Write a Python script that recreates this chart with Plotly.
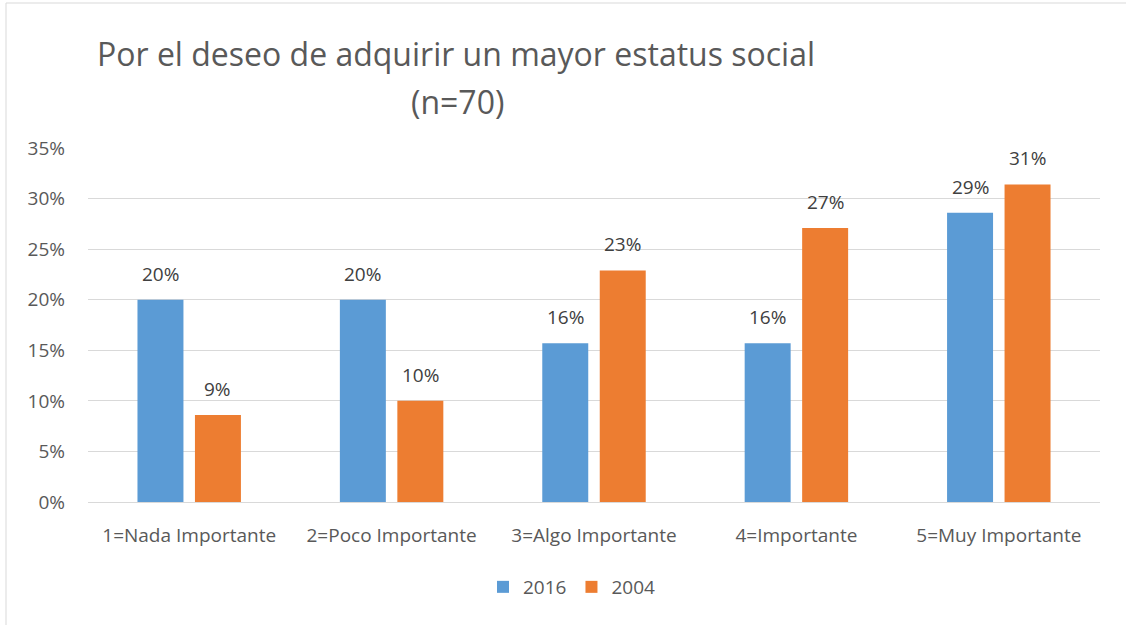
import plotly.graph_objects as go

categories = ["1=Nada Importante", "2=Poco Importante", "3=Algo Importante",
              "4=Importante", "5=Muy Importante"]
series_names = ["2016", "2004"]
values_2016 = [0.200, 0.200, 0.157, 0.157, 0.286]
values_2004 = [0.086, 0.100, 0.229, 0.271, 0.314]
y_ticks = [0, 0.05, 0.10, 0.15, 0.20, 0.25, 0.30, 0.35]
title_line1 = "Por el deseo de adquirir un mayor estatus social"
title_line2 = "(n=70)"

colors = ["#5B9BD5", "#ED7D31"]
FONT = "Open Sans"

fig = go.Figure()
for name, vals, col in zip(series_names, [values_2016, values_2004], colors):
    fig.add_trace(go.Bar(x=categories, y=vals, name=name, marker_color=col,
                         marker_line_width=0))

# data labels
shifts = [-28.75, 28.75]
for vals, xs in zip([values_2016, values_2004], shifts):
    for c, v in zip(categories, vals):
        fig.add_annotation(x=c, y=v, text=f"{v*100:.0f}%", showarrow=False,
                           xshift=xs, yshift=11, yanchor="bottom",
                           font=dict(family=FONT, size=19, color="#404040"))

W, H = 1126, 625
L, R, T, B = 88, 26, 148, 123
pw, ph = W - L - R, H - T - B
def px(x): return (x - L) / pw
def py(y): return (H - B - y) / ph

# second title line
fig.add_annotation(xref="paper", yref="paper", x=px(457), y=py(101),
                   xanchor="center", yanchor="middle", showarrow=False,
                   text=title_line2,
                   font=dict(family=FONT, size=32, color="#595959"))

# chart border (left and top)
fig.add_shape(type="line", xref="paper", yref="paper", x0=px(6), x1=px(6),
              y0=py(3), y1=py(625), line=dict(color="#D9D9D9", width=1))
fig.add_shape(type="line", xref="paper", yref="paper", x0=px(6), x1=px(1126),
              y0=py(3), y1=py(3), line=dict(color="#D9D9D9", width=1))

fig.update_layout(
    width=W, height=H,
    margin=dict(l=L, r=R, t=T, b=B, autoexpand=False),
    paper_bgcolor="white", plot_bgcolor="white",
    barmode="group", bargap=0.432, bargroupgap=0.2,
    font=dict(family=FONT, color="#595959"),
    title=dict(text=title_line1,
               x=px(456), xref="paper", xanchor="center",
               y=1 - 55 / H, yanchor="middle",
               font=dict(family=FONT, size=32, color="#595959")),
    legend=dict(orientation="h", x=px(572), xanchor="center", y=py(587),
                yanchor="middle", font=dict(family=FONT, size=19, color="#595959"),
                itemwidth=30, traceorder="normal"),
    xaxis=dict(showgrid=False, showline=False, ticks="",
               tickfont=dict(family=FONT, size=19, color="#595959"),
               ticklabelstandoff=20),
    yaxis=dict(range=[0, 0.35], tickvals=y_ticks, tickformat=".0%",
               showgrid=True, gridcolor="#D9D9D9", gridwidth=1,
               zeroline=True, zerolinecolor="#D9D9D9", zerolinewidth=1,
               showline=False, ticks="",
               tickfont=dict(family=FONT, size=19, color="#595959"),
               ticklabelstandoff=22),
)

fig.write_html("out.html", config={"displayModeBar": False},
               post_script="document.body.style.margin='0';")
